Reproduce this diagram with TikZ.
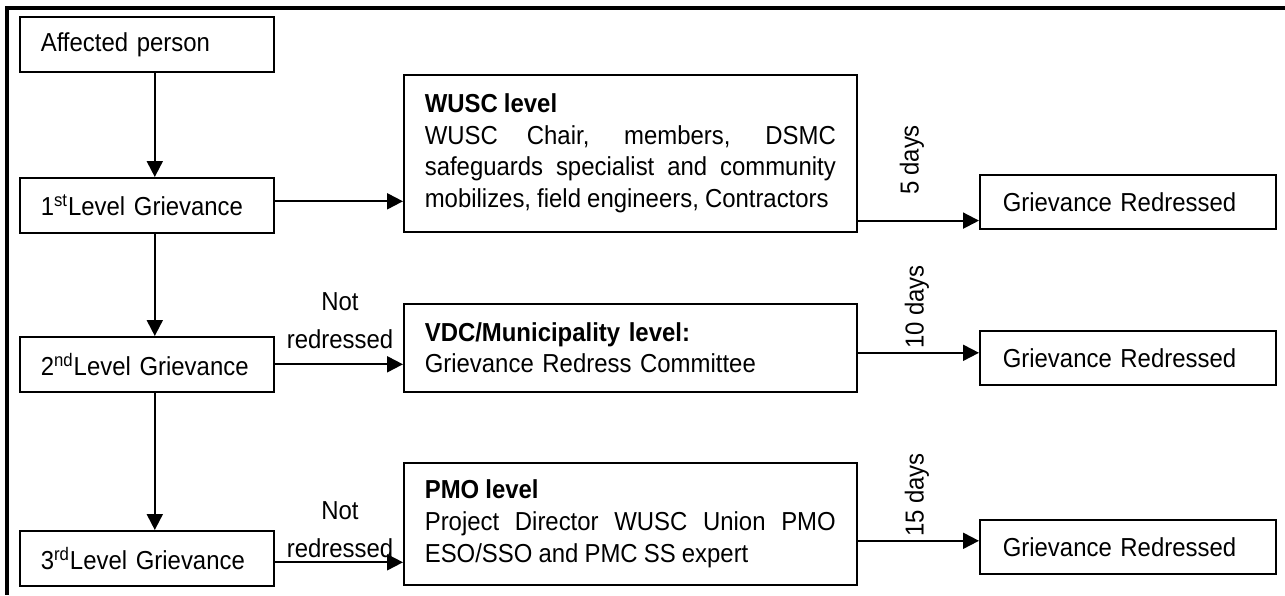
\documentclass[tikz,border=0pt]{standalone}
\usepackage{fontspec}
\setmainfont{Liberation Sans}[FakeStretch=0.92,WordSpace=0.92]
\usetikzlibrary{arrows.meta}

\begin{document}
\begin{tikzpicture}[x=0.5pt,y=-0.5pt,
    font=\fontsize{13}{15.8}\selectfont,
    arr/.style={line width=1pt,-{Triangle[length=8pt,width=8pt]}},
    level/.style={draw,line width=0.8pt,anchor=north west,inner xsep=10.5pt,
        text width=106pt,minimum height=27.5pt,align=left},
    body/.style={draw,line width=0.8pt,anchor=north west,inner xsep=10.5pt,
        text width=205.5pt},
    done/.style={draw,line width=0.8pt,anchor=north west,inner xsep=11.5pt,
        text width=125pt,minimum height=27pt,align=left},
    note/.style={align=center,inner sep=0pt,font=\fontsize{13}{19}\selectfont}]
    \useasboundingbox (0,0) rectangle (1285,595);
    \draw[line width=1.8pt] (1285,8) -- (7,8) -- (7,595);
    \node[level] (aff) at (19,16) {Affected person};
    \node[level] (lev1) at (19,177) {1\textsuperscript{st}Level Grievance};
    \node[level] (lev2) at (19,336) {2\textsuperscript{nd}Level Grievance};
    \node[level] (lev3) at (19,530) {3\textsuperscript{rd}Level Grievance};
    \node[body,minimum height=78.5pt,align=justify] (wusc) at (403,74)
        {\textbf{WUSC level}\\WUSC Chair, members, DSMC\linebreak
         safeguards specialist and community\linebreak
         mobilizes, field engineers, Contractors};
    \node[body,minimum height=44pt,align=left] (vdc) at (403,303)
        {\textbf{VDC/Municipality level:}\\Grievance Redress Committee};
    \node[body,minimum height=61pt,align=justify] (pmo) at (403,462)
        {\textbf{PMO level}\\Project Director WUSC Union PMO\linebreak
         ESO/SSO and PMC SS expert};
    \node[done] (gr1) at (979,174) {Grievance Redressed};
    \node[done] (gr2) at (979,330) {Grievance Redressed};
    \node[done] (gr3) at (979,519) {Grievance Redressed};
    \draw[arr] ([xshift=4pt]aff.south) -- ([xshift=4pt]lev1.north);
    \draw[arr] ([xshift=4pt]lev1.south) -- ([xshift=4pt]lev2.north);
    \draw[arr] ([xshift=4pt]lev2.south) -- ([xshift=4pt]lev3.north);
    \draw[arr] ([yshift=2pt]lev1.east) -- ([yshift=2pt]lev1.east -| wusc.west);
    \draw[arr] (lev2.east) -- (lev2.east -| vdc.west);
    \draw[arr] ([yshift=-2pt]lev3.east) -- ([yshift=-2pt]lev3.east -| pmo.west);
    \draw[arr] ([yshift=6pt]wusc.south east) -- ([yshift=6pt]wusc.south east -| gr1.west);
    \draw[arr] ([yshift=-2.5pt]vdc.east) -- ([yshift=-2.5pt]vdc.east -| gr2.west);
    \draw[arr] ([yshift=-8.5pt]pmo.east) -- ([yshift=-8.5pt]pmo.east -| gr3.west);
    \node[note] (nr1) at (340,321) {Not\\redressed};
    \node[note] (nr2) at (340,530) {Not\\redressed};
    \node[rotate=90,inner sep=0pt] (d5) at (912,160) {5 days};
    \node[rotate=90,inner sep=0pt] (d10) at (917,307) {10 days};
    \node[rotate=90,inner sep=0pt] (d15) at (917,495) {15 days};
\end{tikzpicture}
\end{document}
